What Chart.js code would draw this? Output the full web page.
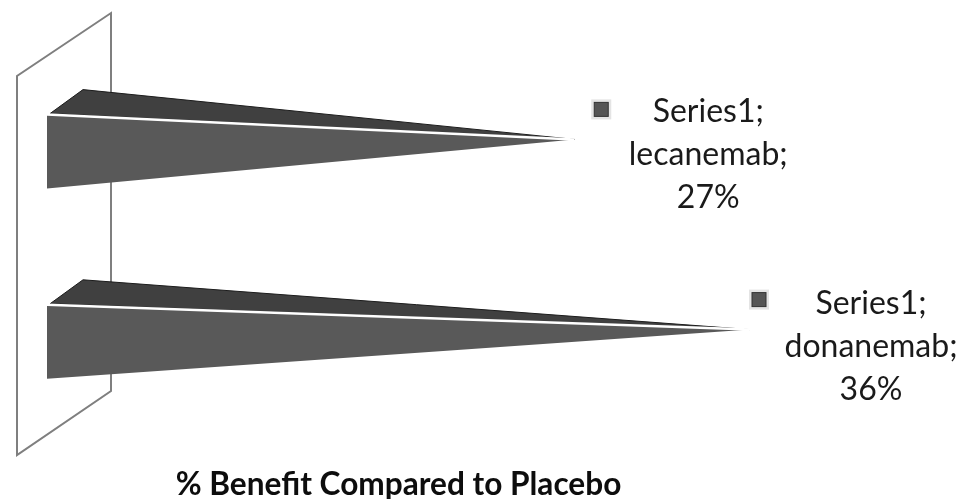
<!DOCTYPE html>
<html lang="en">
<head>
    <meta charset="UTF-8">
    <title>% Benefit Compared to Placebo</title>
    <script src="https://cdn.jsdelivr.net/npm/chart.js"></script>
    <style>
        body { margin: 0; padding: 0; background-color: #ffffff; }
        #chart { display: block; filter: blur(0.5px); }
    </style>
</head>
<body>
    <canvas id="chart" width="971" height="499"></canvas>

    <script>
        const categories = ['lecanemab', 'donanemab'];
        const seriesName = 'Series1';
        const benefit = [27, 36];
        const axisTitle = '% Benefit Compared to Placebo';

        // label box position, measured from each cone tip
        const labelBoxes = [
            { keyDx: 27, keyDy: -30, textDx: 134, textDy: 15 },
            { keyDx: 9, keyDy: -30, textDx: 121, textDy: 17 }
        ];

        const FONT = 'Lato, "Open Sans", sans-serif';

        // back wall of the 3D chart, drawn behind the cones
        const wallPlugin = {
            id: 'wall',
            beforeDatasetsDraw(chart) {
                const c = chart.ctx;
                const x0 = chart.scales.x.getPixelForValue(0);
                c.save();
                c.strokeStyle = '#7f7f7f';
                c.lineWidth = 2;
                c.lineJoin = 'miter';
                c.beginPath();
                c.moveTo(x0 - 30, 455);
                c.lineTo(x0 - 30, 76);
                c.lineTo(x0 + 64, 13);
                c.lineTo(x0 + 64, 391);
                c.closePath();
                c.stroke();
                c.restore();
            }
        };

        // the cones: each one is built from the position of its bar element
        const conePlugin = {
            id: 'cones',
            afterDatasetsDraw(chart) {
                const c = chart.ctx;
                chart.getDatasetMeta(0).data.forEach((bar, i) => {
                    const h = bar.height;
                    const top = bar.y - h / 2;
                    const bottom = bar.y + h / 2;
                    const tipX = bar.x;
                    const tipY = bar.y - h * 0.165;

                    // upper face
                    c.save();
                    c.fillStyle = '#404040';
                    c.strokeStyle = '#1c1c1c';
                    c.lineWidth = 1;
                    c.beginPath();
                    c.moveTo(bar.base + 3, top - 1);
                    c.lineTo(bar.base + 36, top - 25);
                    c.lineTo(tipX, tipY);
                    c.closePath();
                    c.fill();
                    c.stroke();

                    // front face
                    c.fillStyle = '#595959';
                    c.beginPath();
                    c.moveTo(bar.base, top);
                    c.lineTo(bar.base, bottom);
                    c.lineTo(tipX, tipY);
                    c.closePath();
                    c.fill();

                    // white highlight between the faces
                    c.strokeStyle = '#ffffff';
                    c.lineWidth = 2.5;
                    c.beginPath();
                    c.moveTo(bar.base, top);
                    c.lineTo(tipX, tipY);
                    c.stroke();

                    // data label with its legend key
                    const box = labelBoxes[i];
                    const keyX = tipX + box.keyDx;
                    const keyY = tipY + box.keyDy;
                    c.fillStyle = '#e4e4e4';
                    c.fillRect(keyX - 10, keyY - 10, 20, 20);
                    c.fillStyle = '#555555';
                    c.strokeStyle = '#333333';
                    c.lineWidth = 1;
                    c.fillRect(keyX - 7, keyY - 7, 14, 14);
                    c.strokeRect(keyX - 7, keyY - 7, 14, 14);

                    const lines = [seriesName + ';', categories[i] + ';', benefit[i] + '%'];
                    c.fillStyle = '#1a1a1a';
                    c.font = '32px ' + FONT;
                    c.textAlign = 'center';
                    c.textBaseline = 'middle';
                    lines.forEach((line, n) => {
                        c.fillText(line, tipX + box.textDx, tipY + box.textDy + (n - 1) * 43);
                    });
                    c.restore();
                });
            }
        };

        new Chart(document.getElementById('chart').getContext('2d'), {
            type: 'bar',
            data: {
                labels: categories,
                datasets: [{
                    label: seriesName,
                    data: benefit,
                    backgroundColor: 'rgba(0,0,0,0)',
                    barThickness: 74
                }]
            },
            options: {
                indexAxis: 'y',
                responsive: false,
                animation: false,
                layout: { padding: { left: 47, right: 221, top: 56.5, bottom: 0 } },
                plugins: {
                    legend: { display: false },
                    tooltip: { enabled: false }
                },
                scales: {
                    x: {
                        min: 0,
                        max: 36,
                        grid: { display: false },
                        border: { display: false },
                        ticks: { display: false },
                        title: {
                            display: true,
                            text: axisTitle,
                            color: '#0d0d0d',
                            font: { family: FONT, size: 31.6, weight: 'bold', lineHeight: 1 },
                            padding: { top: 24.5, bottom: -2 }
                        }
                    },
                    y: { display: false }
                }
            },
            plugins: [wallPlugin, conePlugin]
        });
    </script>
</body>
</html>
